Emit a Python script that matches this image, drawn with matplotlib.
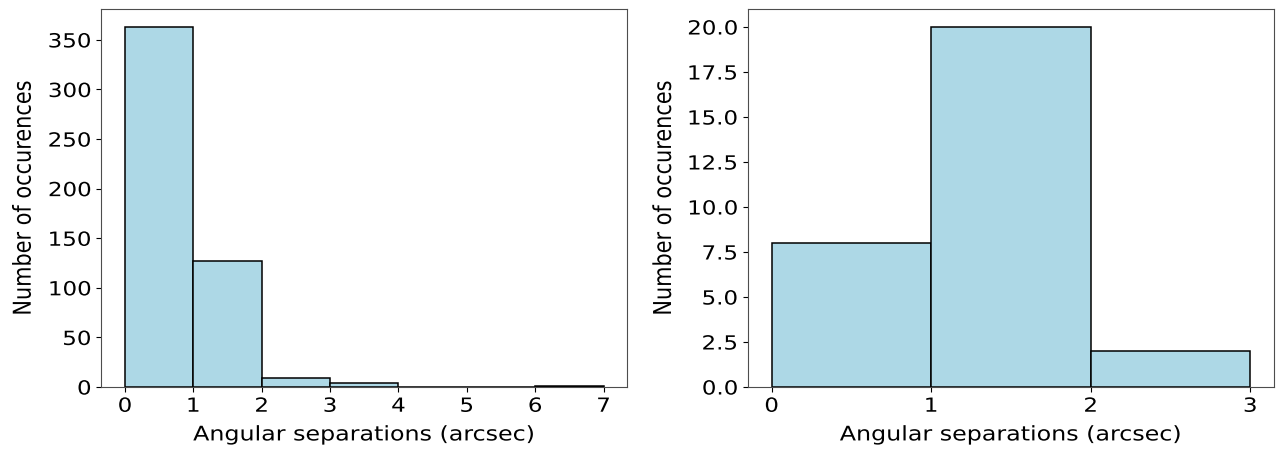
import matplotlib
matplotlib.use("Agg")
import matplotlib.pyplot as plt
import numpy as np
from matplotlib.patheffects import AbstractPathEffect
from matplotlib.transforms import Affine2D

# histogram counts per 1-arcsec bin
bins_all = [0, 1, 2, 3, 4, 5, 6, 7]
counts_all = [363, 127, 9, 4, 0, 0, 1]
yticks_all = [0, 50, 100, 150, 200, 250, 300, 350]

bins_match = [0, 1, 2, 3]
counts_match = [8, 20, 2]
yticks_match = [0, 2.5, 5, 7.5, 10, 12.5, 15, 17.5, 20]

xlabel = "Angular separations (arcsec)"
ylabel = "Number of occurences"


class Widen(AbstractPathEffect):
    """Stretch glyphs horizontally, keeping one edge (or the centre) fixed."""

    def __init__(self, sx=1.18, anchor="center"):
        super().__init__()
        self.sx = sx
        self.anchor = anchor

    def draw_path(self, renderer, gc, tpath, affine, rgbFace=None):
        ext = tpath.get_extents(affine)
        if self.anchor == "right":
            x0 = ext.x1
        elif self.anchor == "left":
            x0 = ext.x0
        else:
            x0 = 0.5 * (ext.x0 + ext.x1)
        stretch = Affine2D().translate(-x0, 0).scale(self.sx, 1).translate(x0, 0)
        renderer.draw_path(gc, tpath, affine + stretch, rgbFace)


def draw_hist(ax, bins, counts, yticks):
    left = np.array(bins[:-1])
    ax.hist(left, bins=bins, weights=counts, color="lightblue",
            edgecolor="black", linewidth=1.1)
    ax.set_xticks(bins)
    ax.set_yticks(yticks)
    ax.tick_params(labelsize=14)
    ax.set_xlabel(xlabel, fontsize=14.5, labelpad=7,
                  path_effects=[Widen()])
    ax.set_ylabel(ylabel, fontsize=15, labelpad=15,
                  path_effects=[Widen()])
    for lab in ax.get_xticklabels():
        lab.set_path_effects([Widen()])
    for lab in ax.get_yticklabels():
        lab.set_path_effects([Widen(anchor="right")])
    for s in ax.spines.values():
        s.set_color("0.3")


fig = plt.figure(figsize=(12.78, 4.5), dpi=100)
ax1 = fig.add_axes([0.079, 0.14, 0.412, 0.84])
ax2 = fig.add_axes([0.585, 0.14, 0.412, 0.84])

draw_hist(ax1, bins_all, counts_all, yticks_all)
draw_hist(ax2, bins_match, counts_match, yticks_match)

fig.savefig("out.png", dpi=100)
